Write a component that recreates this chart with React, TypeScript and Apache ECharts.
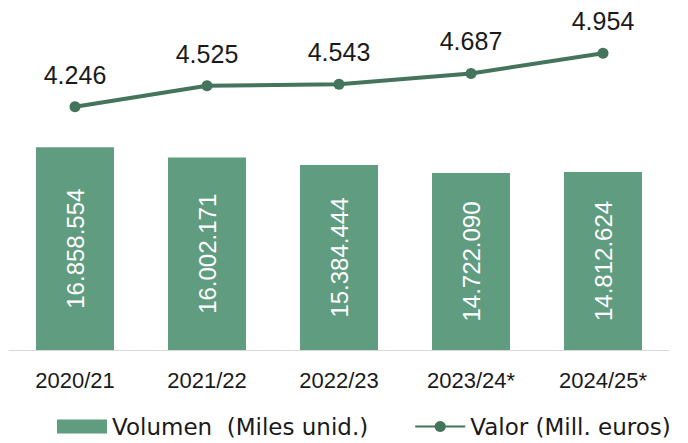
import React, { useEffect, useRef } from "react";
import * as echarts from "echarts";

const categories = ["2020/21", "2021/22", "2022/23", "2023/24*", "2024/25*"];
const volumen = [16858554, 16002171, 15384444, 14722090, 14812624];
const valor = [4246, 4525, 4543, 4687, 4954];

const fmt = (v: number) => v.toString().replace(/\B(?=(\d{3})+(?!\d))/g, ".");

const FONT = "'Liberation Sans', Arial, sans-serif";
const WIDE = "'DejaVu Sans', sans-serif";

export default function App() {
  const ref = useRef<HTMLDivElement>(null);
  useEffect(() => {
    document.body.style.margin = "0";
    const chart = echarts.init(ref.current!, null, { renderer: "svg" });
    chart.setOption({
      animation: false,
      textStyle: { fontFamily: FONT },
      grid: { left: 9, right: 19, top: 20, bottom: 93, containLabel: false },
      legend: {
        top: 415,
        left: 57,
        width: 640,
        padding: 0,
        itemWidth: 50,
        itemHeight: 14,
        itemGap: 46,
        textStyle: { fontSize: 23, color: "#1a1a1a", fontFamily: WIDE },
        data: [
          { name: "Volumen  (Miles unid.)", icon: "rect" },
          { name: "Valor (Mill. euros)" },
        ],
      },
      xAxis: {
        type: "category",
        data: categories,
        axisLine: { show: true, lineStyle: { color: "#d9d9d9", width: 1 } },
        axisTick: { show: false },
        axisLabel: { color: "#1a1a1a", fontSize: 22, margin: 19, fontFamily: FONT },
      },
      yAxis: [
        { type: "value", min: 0, max: 27450000, show: false, splitLine: { show: false } },
        { type: "value", min: 1020, max: 5396, show: false, splitLine: { show: false } },
      ],
      series: [
        {
          name: "Volumen  (Miles unid.)",
          type: "bar",
          yAxisIndex: 0,
          data: volumen,
          barWidth: 78,
          itemStyle: { color: "#5f9c80" },
          label: {
            show: true,
            position: "inside",
            rotate: 90,
            color: "#ffffff",
            fontSize: 24,
            fontFamily: FONT,
            formatter: (p: any) => fmt(p.value),
          },
        },
        {
          name: "Valor (Mill. euros)",
          type: "line",
          yAxisIndex: 1,
          data: valor,
          symbol: "circle",
          symbolSize: 11,
          lineStyle: { color: "#44745b", width: 4 },
          itemStyle: { color: "#44745b" },
          label: {
            show: true,
            position: "top",
            distance: 14,
            color: "#1a1a1a",
            fontSize: 25,
            fontFamily: FONT,
            formatter: (p: any) => fmt(p.value),
          },
        },
      ],
    });
    return () => chart.dispose();
  }, []);
  return <div ref={ref} style={{ width: 688, height: 443 }} />;
}
